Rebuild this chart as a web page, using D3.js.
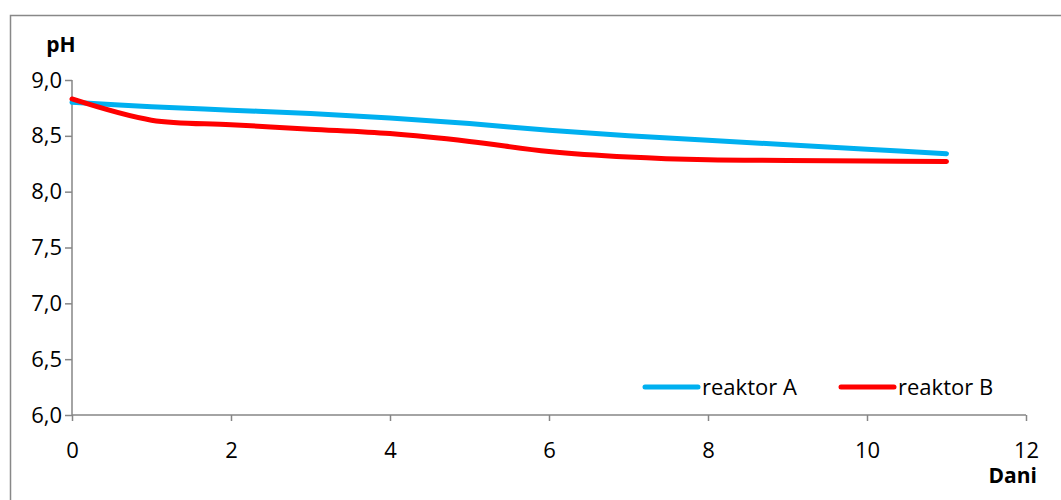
<!DOCTYPE html>
<html>
<head>
<meta charset="utf-8">
<script src="https://cdn.jsdelivr.net/npm/d3@7"></script>
<style>
  body { margin: 0; background: #fff; }
  text { font-family: "Open Sans", "Liberation Sans", sans-serif; fill: #000; }
</style>
</head>
<body>
<svg id="chart" width="1061" height="500"></svg>
<script>
const days = [0, 1, 2, 3, 4, 5, 6, 7, 8, 9, 10, 11];
const reaktorA = [8.80, 8.76, 8.73, 8.70, 8.66, 8.61, 8.55, 8.50, 8.46, 8.42, 8.38, 8.34];
const reaktorB = [8.83, 8.64, 8.60, 8.56, 8.52, 8.45, 8.36, 8.31, 8.285, 8.28, 8.275, 8.27];
const seriesNames = ["reaktor A", "reaktor B"];
const seriesColors = ["#00B0F0", "#FF0000"];
const xTicks = [0, 2, 4, 6, 8, 10, 12];
const yTicks = [6.0, 6.5, 7.0, 7.5, 8.0, 8.5, 9.0];
const yTitle = "pH";
const xTitle = "Dani";

(function () {
const svg = d3.select("#chart");
const W = 1061, H = 500;
const pLeft = 72, pRight = 1026, pTop = 80, pBottom = 415;
const axisColor = "#868686";

// outer border
svg.append("rect").attr("x", 10.5).attr("y", 15.5).attr("width", W).attr("height", H)
  .attr("fill", "none").attr("stroke", "#888").attr("stroke-width", 1.5);

const x = d3.scaleLinear().domain([0, 12]).range([pLeft, pRight]);
const y = d3.scaleLinear().domain([6, 9]).range([pBottom, pTop]);

const fmt = d => d.toFixed(1).replace(".", ",");

const yAxis = svg.append("g").attr("transform", `translate(${pLeft},0)`)
  .call(d3.axisLeft(y).tickValues(yTicks).tickFormat(fmt).tickSize(7).tickPadding(3));
const xAxis = svg.append("g").attr("transform", `translate(0,${pBottom})`)
  .call(d3.axisBottom(x).tickValues(xTicks).tickFormat(d3.format("d")).tickSize(6).tickPadding(21));

[yAxis, xAxis].forEach(g => {
  g.select(".domain").attr("stroke", axisColor).attr("stroke-width", 1.5);
  g.selectAll(".tick line").attr("stroke", axisColor).attr("stroke-width", 1.5);
  g.selectAll(".tick text").attr("font-size", 22).attr("fill", "#000")
    .style("font-family", '"Open Sans", sans-serif');
});
xAxis.select(".domain").attr("d", `M${pLeft},0H${pRight}`);
yAxis.select(".domain").attr("d", `M0,${pBottom}V${pTop}`);

// lines
const line = d3.line().x((d, i) => x(days[i])).y(d => y(d)).curve(d3.curveCatmullRom.alpha(0));
[reaktorA, reaktorB].forEach((s, k) => {
  svg.append("path").datum(s).attr("d", line).attr("fill", "none")
    .attr("stroke", seriesColors[k]).attr("stroke-width", 5)
    .attr("stroke-linecap", "round").attr("stroke-linejoin", "round");
});

// titles
svg.append("text").attr("x", 61).attr("y", 52).attr("text-anchor", "middle")
  .attr("font-size", 21).attr("font-weight", "bold").text(yTitle);
svg.append("text").attr("x", 1037).attr("y", 483).attr("text-anchor", "end")
  .attr("font-size", 21).attr("font-weight", "bold").text(xTitle);

// legend
const legX = [645, 841];
seriesNames.forEach((n, k) => {
  const g = svg.append("g");
  g.append("line").attr("x1", legX[k]).attr("x2", legX[k] + 53).attr("y1", 387).attr("y2", 387)
    .attr("stroke", seriesColors[k]).attr("stroke-width", 5).attr("stroke-linecap", "round");
  g.append("text").attr("x", legX[k] + 57).attr("y", 395).attr("font-size", 22).text(n);
});
})();
</script>
</body>
</html>
